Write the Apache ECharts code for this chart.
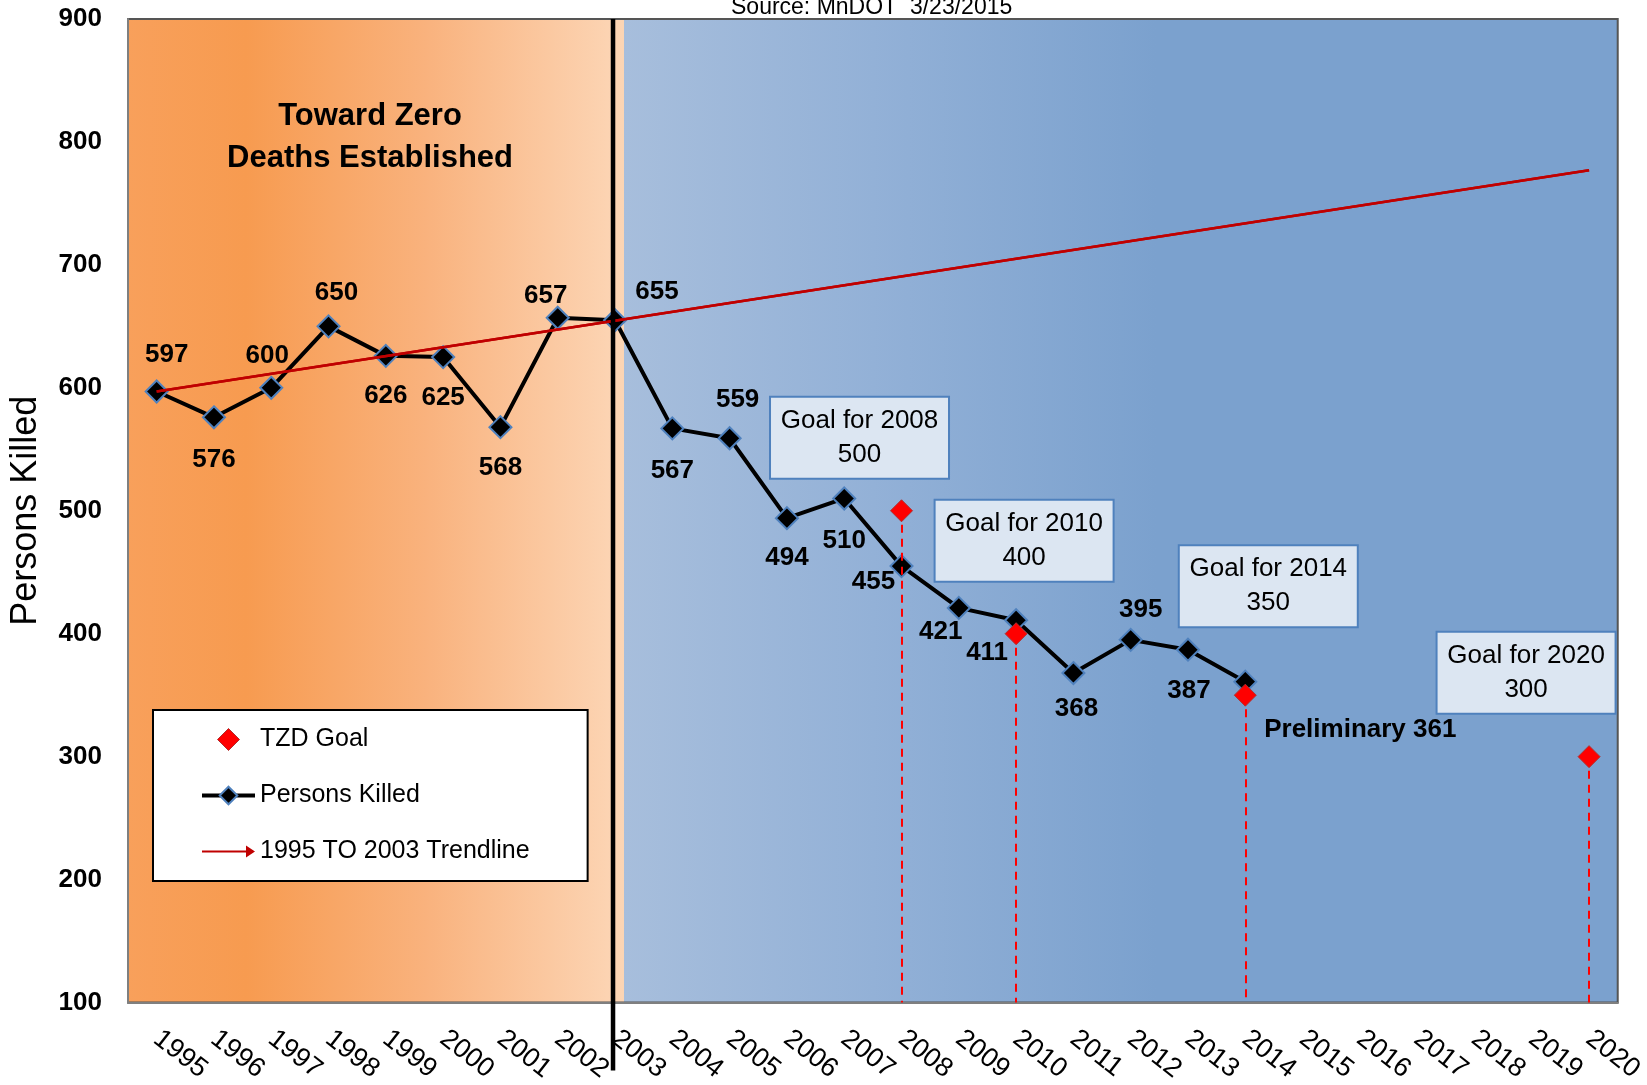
<!DOCTYPE html>
<html><head><meta charset="utf-8">
<script src="https://cdn.jsdelivr.net/npm/echarts@6/dist/echarts.min.js"></script>
<style>html,body{margin:0;padding:0;background:#fff}#c{width:1647px;height:1085px}</style>
</head><body><div id="c"></div>
<script>
// ---- data ----
const years = ['1995','1996','1997','1998','1999','2000','2001','2002','2003','2004','2005','2006','2007','2008','2009','2010','2011','2012','2013','2014','2015','2016','2017','2018','2019','2020'];
const killedYears = ['1995','1996','1997','1998','1999','2000','2001','2002','2003','2004','2005','2006','2007','2008','2009','2010','2011','2012','2013','2014'];
const killedValues = [597,576,600,650,626,625,568,657,655,567,559,494,510,455,421,411,368,395,387,361];
const goalYears = ['2008','2010','2014','2020'];
const goalValues = [500,400,350,300];
const trendYears = ['1995','2020'];
const trendValues = [597,777];
const eventYear = '2003';
const yMin = 100, yMax = 900, yStep = 100;

// ---- layout (label offsets, px) ----
const killedLabelOffsets = [[10,-37],[0,42],[-4,-32],[8,-34],[0,40],[0,41],[0,41],[-12,-22],[42,-28],[0,42],[8,-38],[0,40],[0,42],[-28,16],[-18,24],[-29,33],[3,36],[10,-30],[1,41],[115,48]];
const goalLabelOffsets = [[-42,-73],[8,-93],[23,-109],[-63,-84]];

const FONT = "'Liberation Sans', Arial, sans-serif";
const chart = echarts.init(document.getElementById('c'));

const bg = new echarts.graphic.LinearGradient(0,0,1,0,[
  {offset:0, color:'#F8A05B'},
  {offset:0.08, color:'#F79B50'},
  {offset:0.2, color:'#F9B27D'},
  {offset:0.325, color:'#FCD4B3'},
  {offset:0.333, color:'#FCD5B4'},
  {offset:0.3331, color:'#A7BEDC'},
  {offset:0.5, color:'#93B1D7'},
  {offset:0.69, color:'#7BA1CE'},
  {offset:1, color:'#7BA1CE'}
]);

const option = {
  animation:false,
  textStyle:{fontFamily:FONT},
  title:{text:'Source: MnDOT  3/23/2015', left:726, top:-9, textStyle:{fontSize:23, fontWeight:'normal', color:'#000', fontFamily:FONT}},
  grid:{left:128, right:25, top:19, bottom:77, show:true, backgroundColor:bg, borderColor:'#555', borderWidth:2},
  legend:{
    orient:'vertical', left:153, top:710,
    backgroundColor:'#fff', borderColor:'#000', borderWidth:2,
    padding:[17,58,17,47], itemGap:31, itemWidth:53, itemHeight:22,
    symbolKeepAspect:true,
    textStyle:{fontSize:25, color:'#000', fontFamily:FONT},
    data:[
      {name:'TZD Goal', icon:'path://M10,0L20,10L10,20L0,10Z', itemStyle:{borderColor:'#B03030', borderWidth:1}},
      {name:'Persons Killed', lineStyle:{width:4, color:'#000'}},
      {name:'1995 TO 2003 Trendline', icon:'path://M0,11L44,11L44,6L53,12L44,18L44,13L0,13Z'}
    ]
  },
  xAxis:{
    type:'category', data:years, boundaryGap:true,
    axisLine:{show:true, lineStyle:{color:'#7F7F7F', width:2}},
    axisTick:{show:false},
    axisLabel:{rotate:-38, fontSize:27, color:'#000', margin:33, fontFamily:FONT, interval:0},
    splitLine:{show:false}
  },
  yAxis:{
    type:'value', min:yMin, max:yMax, interval:yStep,
    name:'Persons Killed', nameLocation:'middle', nameGap:84, nameRotate:90,
    nameTextStyle:{fontSize:36, color:'#000', fontFamily:FONT},
    axisLine:{show:true, lineStyle:{color:'#7F7F7F', width:2}},
    axisTick:{show:false},
    axisLabel:{fontSize:26, fontWeight:'bold', color:'#000', margin:26, fontFamily:FONT},
    splitLine:{show:false}
  },
  series:[
    {
      name:'Persons Killed', type:'line', z:3,
      data:killedYears.map((y,i)=>({value:[y, killedValues[i]], label:{offset:killedLabelOffsets[i]}})),
      symbol:'diamond', symbolSize:22,
      lineStyle:{color:'#000', width:4},
      itemStyle:{color:'#000', borderColor:'#4F81BD', borderWidth:2},
      label:{show:true, position:'inside', fontSize:26, fontWeight:'bold', color:'#000', fontFamily:FONT,
        formatter:p=> (p.dataIndex===killedValues.length-1 ? 'Preliminary ' : '') + p.value[1]}
    },
    {
      name:'1995 TO 2003 Trendline', type:'line', z:4,
      data:trendYears.map((y,i)=>[y, trendValues[i]]),
      showSymbol:false, symbol:'none',
      lineStyle:{color:'#C00000', width:2.5},
      itemStyle:{color:'#C00000'},
      markLine:{silent:true, symbol:['none','arrow'], symbolSize:[0,16], label:{show:false},
        lineStyle:{color:'#C00000', width:2.5, type:'solid'},
        data:[[{coord:[trendYears[0], trendValues[0]]},{coord:[trendYears[1], trendValues[1]]}]]}
    },
    {
      name:'TZD Goal', type:'scatter', z:5,
      data:goalYears.map((y,i)=>({value:[y, goalValues[i]], label:{offset:goalLabelOffsets[i]}})),
      symbol:'diamond', symbolSize:22,
      itemStyle:{color:'#FF0000', borderColor:'#B03030', borderWidth:1, opacity:1},
      label:{show:true, position:'inside', formatter:p=>'Goal for '+p.value[0]+'\n'+p.value[1],
        fontSize:26, color:'#000', fontFamily:FONT, lineHeight:34, align:'center', opacity:1,
        backgroundColor:'#DCE6F2', borderColor:'#4F81BD', borderWidth:2, padding:[6,8], width:161},
      markLine:{silent:true, symbol:'none', label:{show:false},
        lineStyle:{color:'#FF0000', width:2, type:[8,6]},
        data:goalYears.map((y,i)=>[{coord:[y, goalValues[i]]},{coord:[y, yMin]}])}
    }
  ]
};
chart.setOption(option);

const ex = chart.convertToPixel({xAxisIndex:0}, eventYear) - 2;
const yTop = chart.convertToPixel({yAxisIndex:0}, yMax);
const yBot = chart.convertToPixel({yAxisIndex:0}, yMin);
chart.setOption({graphic:[
  {type:'line', z:10, shape:{x1:ex, y1:yTop, x2:ex, y2:yBot+68}, style:{stroke:'#000', lineWidth:4.5}},
  {type:'text', z:10, x:370, y:95, style:{text:'Toward Zero\nDeaths Established', fontSize:31, fontWeight:'bold', fill:'#000', font:"bold 31px 'Liberation Sans', Arial", textAlign:'center', textVerticalAlign:'top', lineHeight:42}}
]});
</script></body></html>
